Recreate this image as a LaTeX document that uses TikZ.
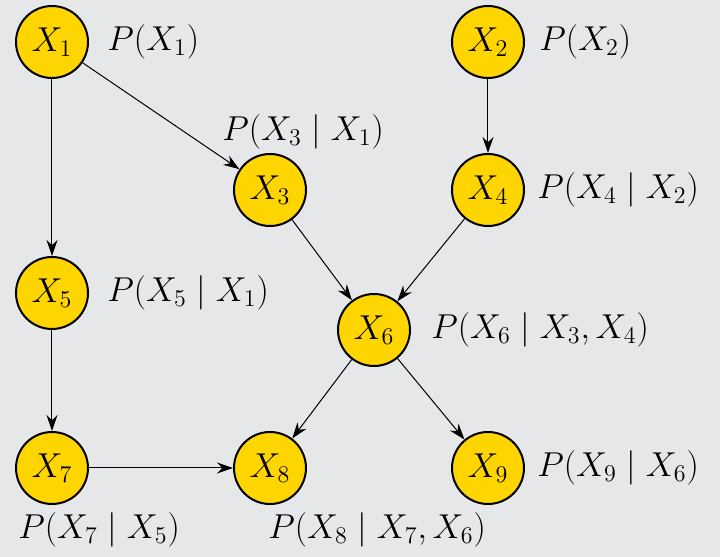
\documentclass[tikz,border=0pt]{standalone}
\usepackage{amsmath}
\usetikzlibrary{arrows.meta,positioning}
\definecolor{bngold}{HTML}{FFD500}
\definecolor{bnpaper}{HTML}{E5E7E9}
\newcommand{\bnfont}{\fontsize{18.5}{22}\selectfont}
\tikzset{
  var/.style={circle, draw=black, fill=bngold, line width=1pt,
    minimum size=36pt, inner sep=0pt, font=\bnfont},
  cpd/.style={font=\bnfont, inner sep=2pt},
  dep/.style={-{Stealth[length=8pt,width=5.5pt]}, line width=0.5pt},
}

\begin{document}
\begin{tikzpicture}[x=0.5pt, y=-0.5pt]
        \fill[bnpaper] (0,0) rectangle (720,557);
        \useasboundingbox (0,0) rectangle (720,557);
        % variables
        \node[var] (x1) at (52,42)   {$X_1$};
        \node[var] (x2) at (488,42)  {$X_2$};
        \node[var] (x3) at (270,190) {$X_3$};
        \node[var] (x4) at (488,190) {$X_4$};
        \node[var] (x5) at (52,293)  {$X_5$};
        \node[var] (x6) at (374,330) {$X_6$};
        \node[var] (x7) at (52,468)  {$X_7$};
        \node[var] (x8) at (270,468) {$X_8$};
        \node[var] (x9) at (488,468) {$X_9$};
        % conditional distributions
        \node[cpd, right=7pt of x1] (p1) {$P(X_1)$};
        \node[cpd, right=5pt of x2] (p2) {$P(X_2)$};
        \node[cpd, anchor=west] (p3) at (218,132) {$P(X_3 \mid X_1)$};
        \node[cpd, right=4pt of x4] (p4) {$P(X_4 \mid X_2)$};
        \node[cpd, right=7pt of x5] (p5) {$P(X_5 \mid X_1)$};
        \node[cpd, right=8pt of x6] (p6) {$P(X_6 \mid X_3, X_4)$};
        \node[cpd, anchor=west] (p7) at (14,530) {$P(X_7 \mid X_5)$};
        \node[cpd, anchor=west] (p8) at (264,530) {$P(X_8 \mid X_7, X_6)$};
        \node[cpd, right=4pt of x9] (p9) {$P(X_9 \mid X_6)$};
        % dependencies
        \draw[dep] (x1) -- (x3);
        \draw[dep] (x1) -- (x5);
        \draw[dep] (x2) -- (x4);
        \draw[dep] (x3) -- (x6);
        \draw[dep] (x4) -- (x6);
        \draw[dep] (x5) -- (x7);
        \draw[dep] (x6) -- (x8);
        \draw[dep] (x6) -- (x9);
        \draw[dep] (x7) -- (x8);
      \end{tikzpicture}
\end{document}
